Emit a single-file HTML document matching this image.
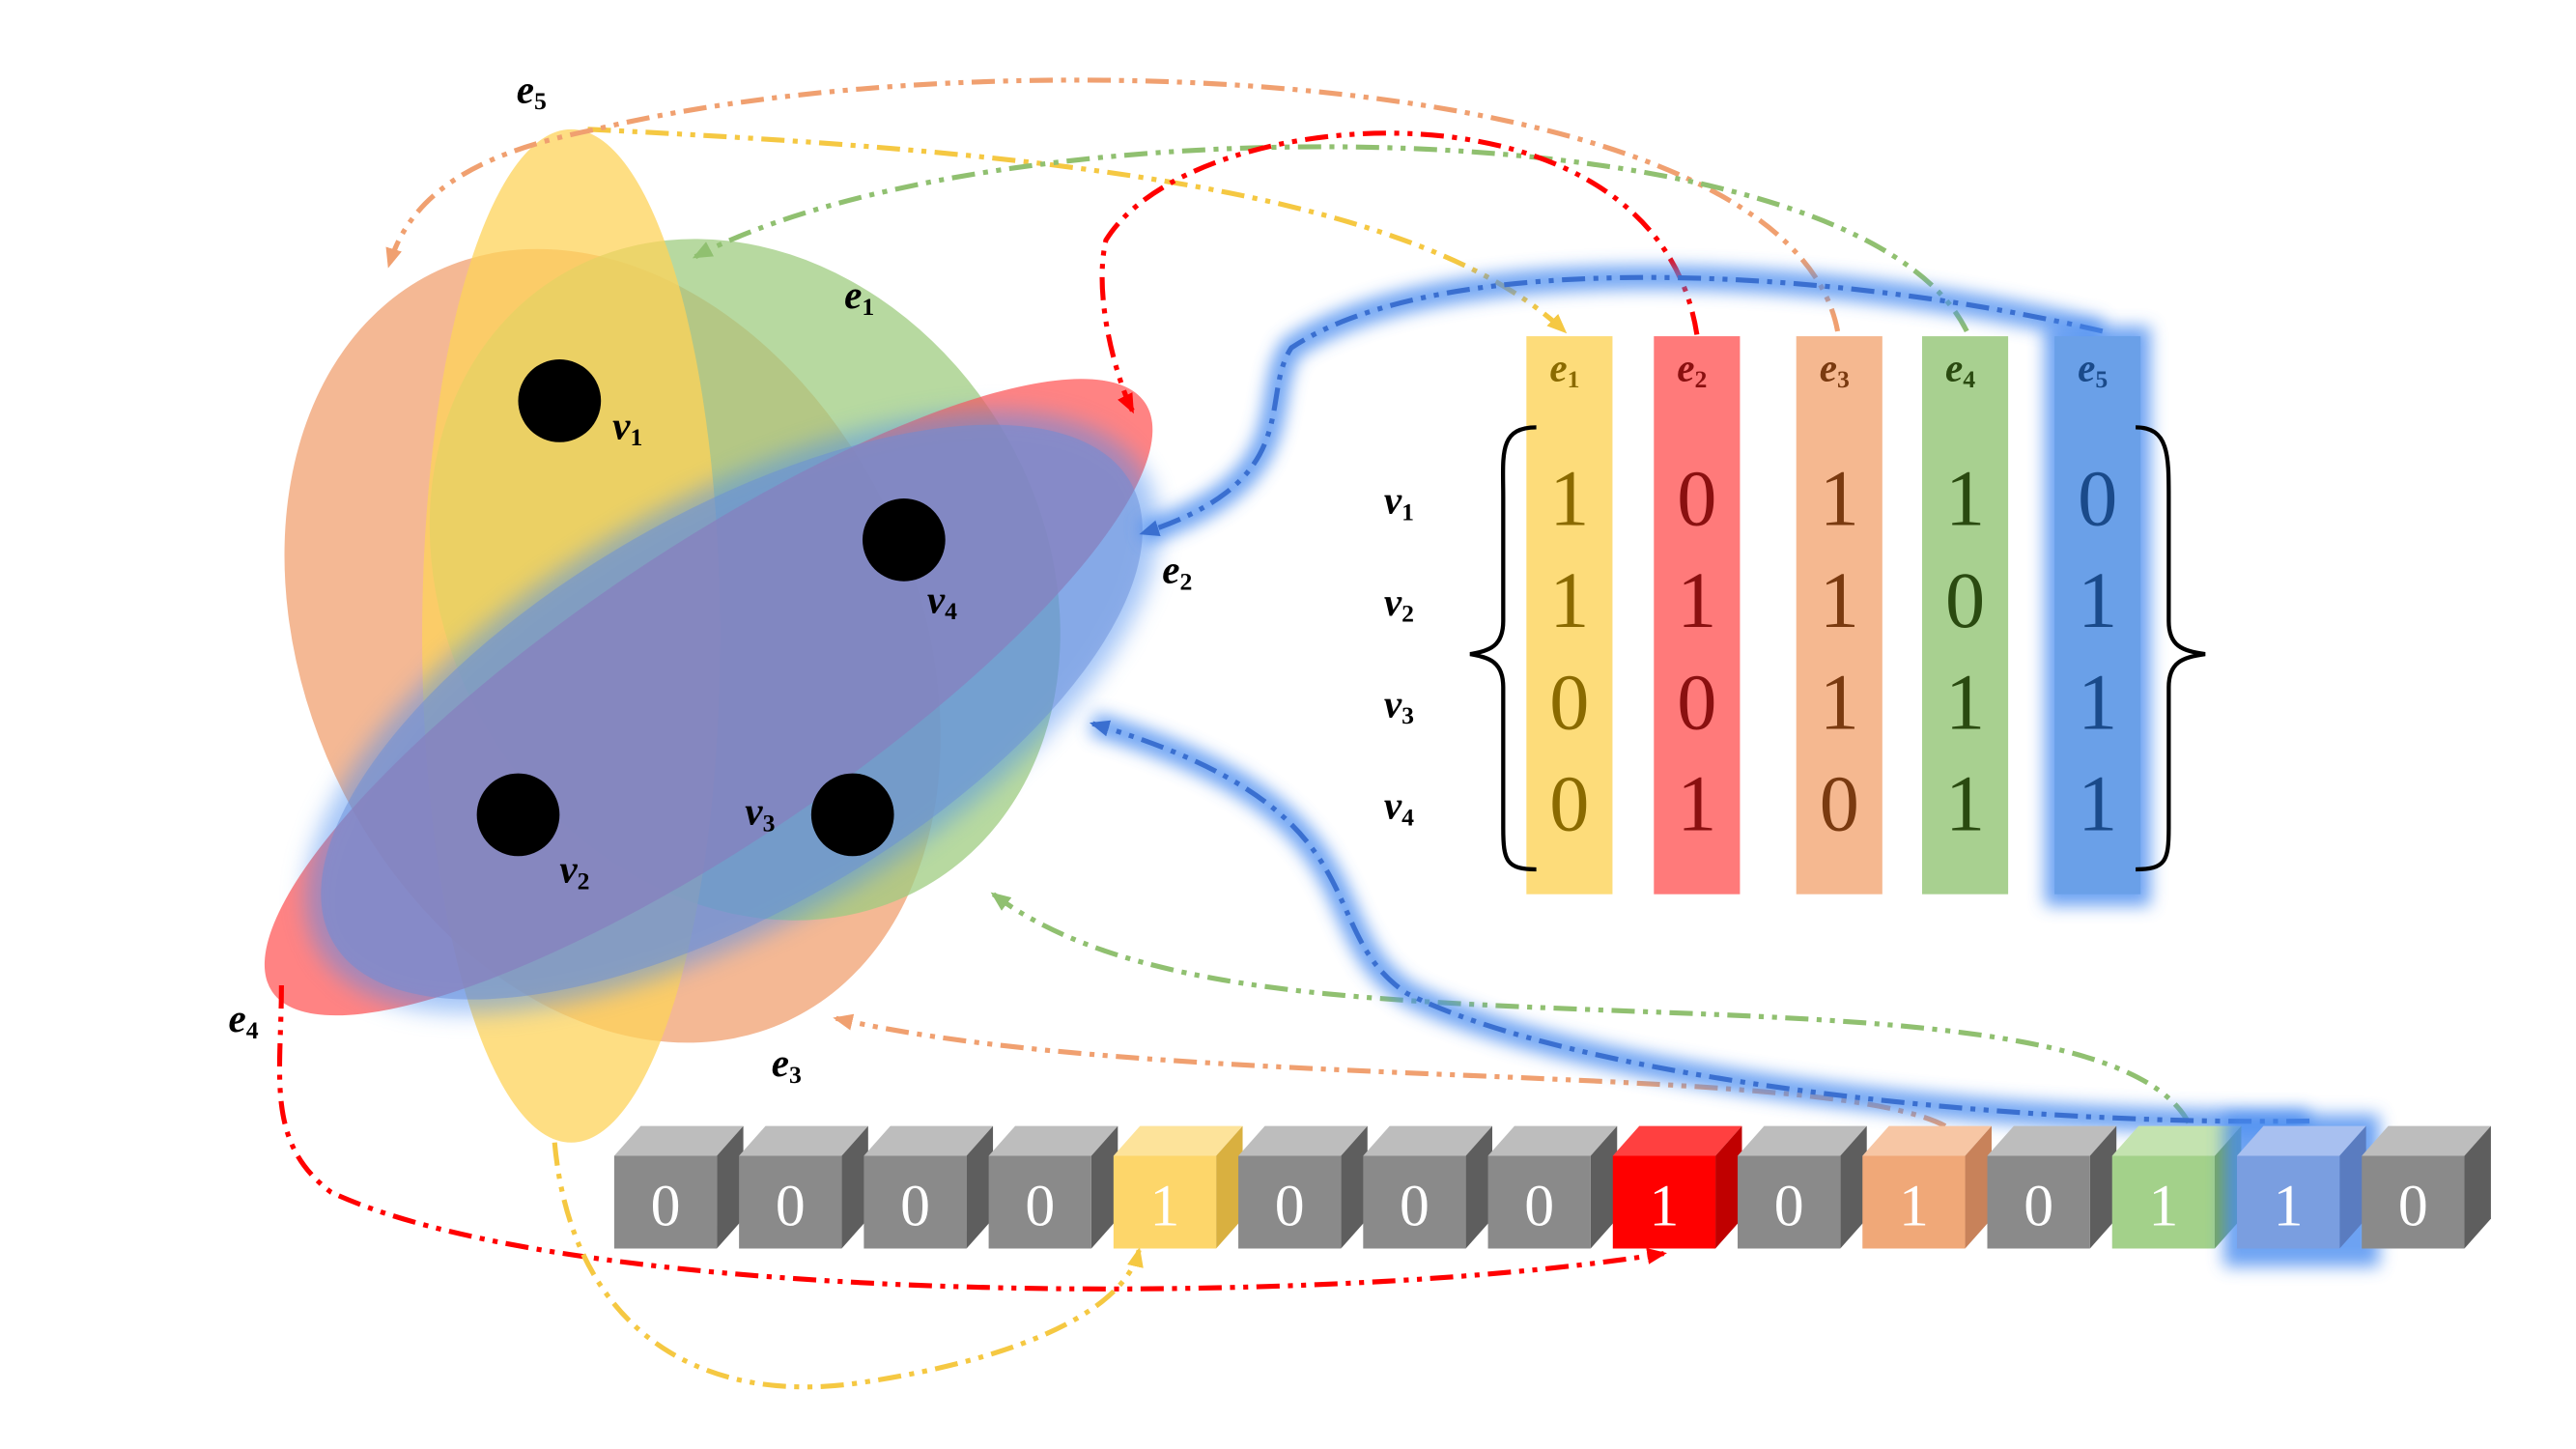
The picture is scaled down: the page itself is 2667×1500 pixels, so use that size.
<!DOCTYPE html>
<html><head><meta charset="utf-8"><style>
html,body{margin:0;padding:0;background:#fff;}
svg{display:block;}
text{font-family:"Liberation Serif",serif;}
</style></head><body>
<svg id="fig" width="2667" height="1500" viewBox="0 0 1556 875" xmlns="http://www.w3.org/2000/svg">
<defs>
<filter id="glow" x="-30%" y="-30%" width="160%" height="160%"><feGaussianBlur stdDeviation="7"/></filter>
<filter id="glow2" x="-30%" y="-30%" width="160%" height="160%"><feGaussianBlur stdDeviation="5"/></filter>
<marker id="ar-red" markerUnits="userSpaceOnUse" markerWidth="12" markerHeight="10" refX="10" refY="5" orient="auto"><path d="M0,0 L12,5 L0,10 z" fill="#f00"/></marker>
<marker id="ar-yel" markerUnits="userSpaceOnUse" markerWidth="12" markerHeight="10" refX="10" refY="5" orient="auto"><path d="M0,0 L12,5 L0,10 z" fill="#f5c842"/></marker>
<marker id="ar-or" markerUnits="userSpaceOnUse" markerWidth="12" markerHeight="10" refX="10" refY="5" orient="auto"><path d="M0,0 L12,5 L0,10 z" fill="#f0a070"/></marker>
<marker id="ar-gr" markerUnits="userSpaceOnUse" markerWidth="12" markerHeight="10" refX="10" refY="5" orient="auto"><path d="M0,0 L12,5 L0,10 z" fill="#90c070"/></marker>
<marker id="ar-bl" markerUnits="userSpaceOnUse" markerWidth="12" markerHeight="10" refX="10" refY="5" orient="auto"><path d="M0,0 L12,5 L0,10 z" fill="#3a6fd0"/></marker>
</defs>

<g>
<ellipse cx="370" cy="390" rx="185" ry="250" transform="rotate(-25 370 390)" fill="#f0a070" opacity="0.75"/>
<ellipse cx="450" cy="350" rx="180" ry="215" transform="rotate(-32 450 350)" fill="#9fcc80" opacity="0.75"/>
<ellipse cx="345" cy="384" rx="90" ry="306" fill="#fdd35a" opacity="0.75"/>
<ellipse cx="428" cy="421" rx="318" ry="88" transform="rotate(-34 428 421)" fill="#ff5a5a" opacity="0.75"/>
<ellipse cx="442" cy="430" rx="288" ry="128" transform="rotate(-30 442 430)" fill="#4a8cf0" opacity="0.5" filter="url(#glow)"/>
<ellipse cx="442" cy="430" rx="278" ry="120" transform="rotate(-30 442 430)" fill="#6a8ed8" opacity="0.5"/>
<circle cx="338" cy="242" r="25" fill="#000"/>
<circle cx="546" cy="326" r="25" fill="#000"/>
<circle cx="313" cy="492" r="25" fill="#000"/>
<circle cx="515" cy="492" r="25" fill="#000"/>
<g font-style="italic" font-weight="bold" font-size="24">
<text x="370" y="265">v<tspan font-size="15" dy="4" font-style="normal">1</tspan></text>
<text x="560" y="370">v<tspan font-size="15" dy="4" font-style="normal">4</tspan></text>
<text x="338" y="533">v<tspan font-size="15" dy="4" font-style="normal">2</tspan></text>
<text x="450" y="498">v<tspan font-size="15" dy="4" font-style="normal">3</tspan></text>
<text x="312" y="62">e<tspan font-size="15" dy="4" font-style="normal">5</tspan></text>
<text x="510" y="186">e<tspan font-size="15" dy="4" font-style="normal">1</tspan></text>
<text x="702" y="352">e<tspan font-size="15" dy="4" font-style="normal">2</tspan></text>
<text x="138" y="623">e<tspan font-size="15" dy="4" font-style="normal">4</tspan></text>
<text x="466" y="650">e<tspan font-size="15" dy="4" font-style="normal">3</tspan></text>
</g>
</g>

<g fill="none" stroke-width="3" stroke-dasharray="14 5 3 5 3 5">
<path d="M355,78 C600,90 850,110 945,200" stroke="#f5c842" marker-end="url(#ar-yel)"/>
<path d="M1110,200 C1080,40 600,20 360,78 C300,90 250,110 235,160" stroke="#f0a070" marker-end="url(#ar-or)"/>
<path d="M1188,200 C1120,60 600,60 420,155" stroke="#90c070" marker-end="url(#ar-gr)"/>
<path d="M1025,202 C1000,40 720,60 668,145 C660,180 675,230 684,248" stroke="#f00" marker-end="url(#ar-red)"/>
<path d="M170,595 C170,650 160,690 200,720 C350,790 800,790 1005,757" stroke="#f00" marker-end="url(#ar-red)"/>
<path d="M335,690 C345,800 420,850 520,835 C620,820 680,790 688,755" stroke="#f5c842" marker-end="url(#ar-yel)"/>
<path d="M1175,680 C1100,640 700,660 505,615" stroke="#f0a070" marker-end="url(#ar-or)"/>
<path d="M1322,678 C1280,600 1000,620 800,600 C700,590 640,570 600,540" stroke="#90c070" marker-end="url(#ar-gr)"/>
<g filter="url(#glow2)" stroke="#4a8cf0" stroke-width="14" stroke-dasharray="none" opacity="0.8">
<path d="M1270,200 C1100,160 870,150 780,210 C760,240 790,290 690,322"/>
<path d="M1395,677 C1200,680 950,650 850,600 C790,560 840,490 660,437"/>
</g>
<path d="M1270,200 C1100,160 870,150 780,210 C760,240 790,290 690,322" stroke="#3a6fd0" marker-end="url(#ar-bl)"/>
<path d="M1395,677 C1200,680 950,650 850,600 C790,560 840,490 660,437" stroke="#3a6fd0" marker-end="url(#ar-bl)"/>
</g>

<g id="matrix"></g>
<g id="cubes"></g>
</svg>
<script>
const edgeNames = ['e1','e2','e3','e4','e5'];
const vertexNames = ['v1','v2','v3','v4'];
const colE1 = [1,1,0,0];
const colE2 = [0,1,0,1];
const colE3 = [1,1,1,0];
const colE4 = [1,0,1,1];
const colE5 = [0,1,1,1];
const bitValues = [0,0,0,0,1,0,0,0,1,0,1,0,1,1,0];
const bitColors = ['gray','gray','gray','gray','e1','gray','gray','gray','e2','gray','e3','gray','e4','e5','gray'];

const NS='http://www.w3.org/2000/svg';
function mk(tag,attrs,parent){const e=document.createElementNS(NS,tag);for(const k in attrs)e.setAttribute(k,attrs[k]);parent.appendChild(e);return e;}
const cols=[colE1,colE2,colE3,colE4,colE5];
const colX=x=>[922,999,1085,1161,1241][x];
const rowY=r=>300+r*61.5;
const fills=['#fddc7a','#ff7a7a','#f5b890','#a8d090','#6aa0e8'];
const digitC=['#8a6a00','#8a1010','#7a3a10','#2a4a10','#1a4a8a'];
const M=document.getElementById('matrix');
cols.forEach((col,j)=>{
  if(j===4){const g=mk('rect',{x:colX(j)-6,y:197,width:64,height:350,fill:'#4a8cf0',filter:'url(#glow2)',opacity:0.8},M);
    
    }
  const r=mk('rect',{x:colX(j),y:203,width:52,height:337,fill:fills[j]},M);
  
  
  const h=mk('text',{x:colX(j)+14,y:230,'font-size':24,'font-style':'italic','font-weight':'bold',fill:digitC[j]},M);
  h.innerHTML=edgeNames[j][0]+'<tspan font-size="15" dy="4" font-style="normal">'+edgeNames[j][1]+'</tspan>';
  
  
  col.forEach((v,i)=>{
    const t=mk('text',{x:colX(j)+26,y:rowY(i)+17,'font-size':48,'text-anchor':'middle',fill:digitC[j]},M);
    t.textContent=v;
    
    
  });
});
vertexNames.forEach((v,i)=>{
  const t=mk('text',{x:836,y:rowY(i)+10,'font-size':24,'font-style':'italic','font-weight':'bold'},M);
  t.innerHTML='v<tspan font-size="15" dy="4" font-style="normal">'+v[1]+'</tspan>';
  
  
});
const b1=mk('path',{d:'M928,258 C905,258 908,275 908,300 L908,375 C908,390 900,393 888,395 C900,397 908,400 908,415 L908,500 C908,520 910,525 928,525',fill:'none',stroke:'#000','stroke-width':2.5},M);


const b2=mk('path',{d:'M1290,258 C1310,258 1310,275 1310,300 L1310,375 C1310,390 1318,393 1332,395 C1318,397 1310,400 1310,415 L1310,500 C1310,520 1308,525 1290,525',fill:'none',stroke:'#000','stroke-width':2.5},M);



const C=document.getElementById('cubes');
const cubeX=i=>371+i*75.4;
const palette={gray:['#8a8a8a','#bdbdbd','#5e5e5e'],e1:['#fdd66a','#fde39a','#d9b040'],e2:['#ff0000','#ff4040','#c00000'],e3:['#f0a878','#f7c6a4','#c8825a'],e4:['#a3d18a','#c4e3b0','#78a860'],e5:['#7a9ee0','#a8c0f0','#5a7cc0']};
bitValues.forEach((v,i)=>{
  const x=cubeX(i), y=698, w=62, h=56, d=16;
  const p=palette[bitColors[i]];
  if(bitColors[i]==='e5'){const g=mk('rect',{x:x-8,y:y-25,width:w+d+16,height:h+d+20,fill:'#4a8cf0',filter:'url(#glow2)',opacity:0.8},C);
    
    }
  const top=mk('polygon',{points:`${x},${y} ${x+d},${y-d-2} ${x+w+d},${y-d-2} ${x+w},${y}`,fill:p[1]},C);
  
  
  const side=mk('polygon',{points:`${x+w},${y} ${x+w+d},${y-d-2} ${x+w+d},${y+h-d-2} ${x+w},${y+h}`,fill:p[2]},C);
  
  
  const f=mk('rect',{x:x,y:y,width:w,height:h,fill:p[0]},C);
  
  
  const t=mk('text',{x:x+w/2,y:y+42,'font-size':36,'text-anchor':'middle',fill:'#fff','font-family':'Liberation Sans, sans-serif'},C);
  t.textContent=v;
  
  
});
</script>
</body></html>
